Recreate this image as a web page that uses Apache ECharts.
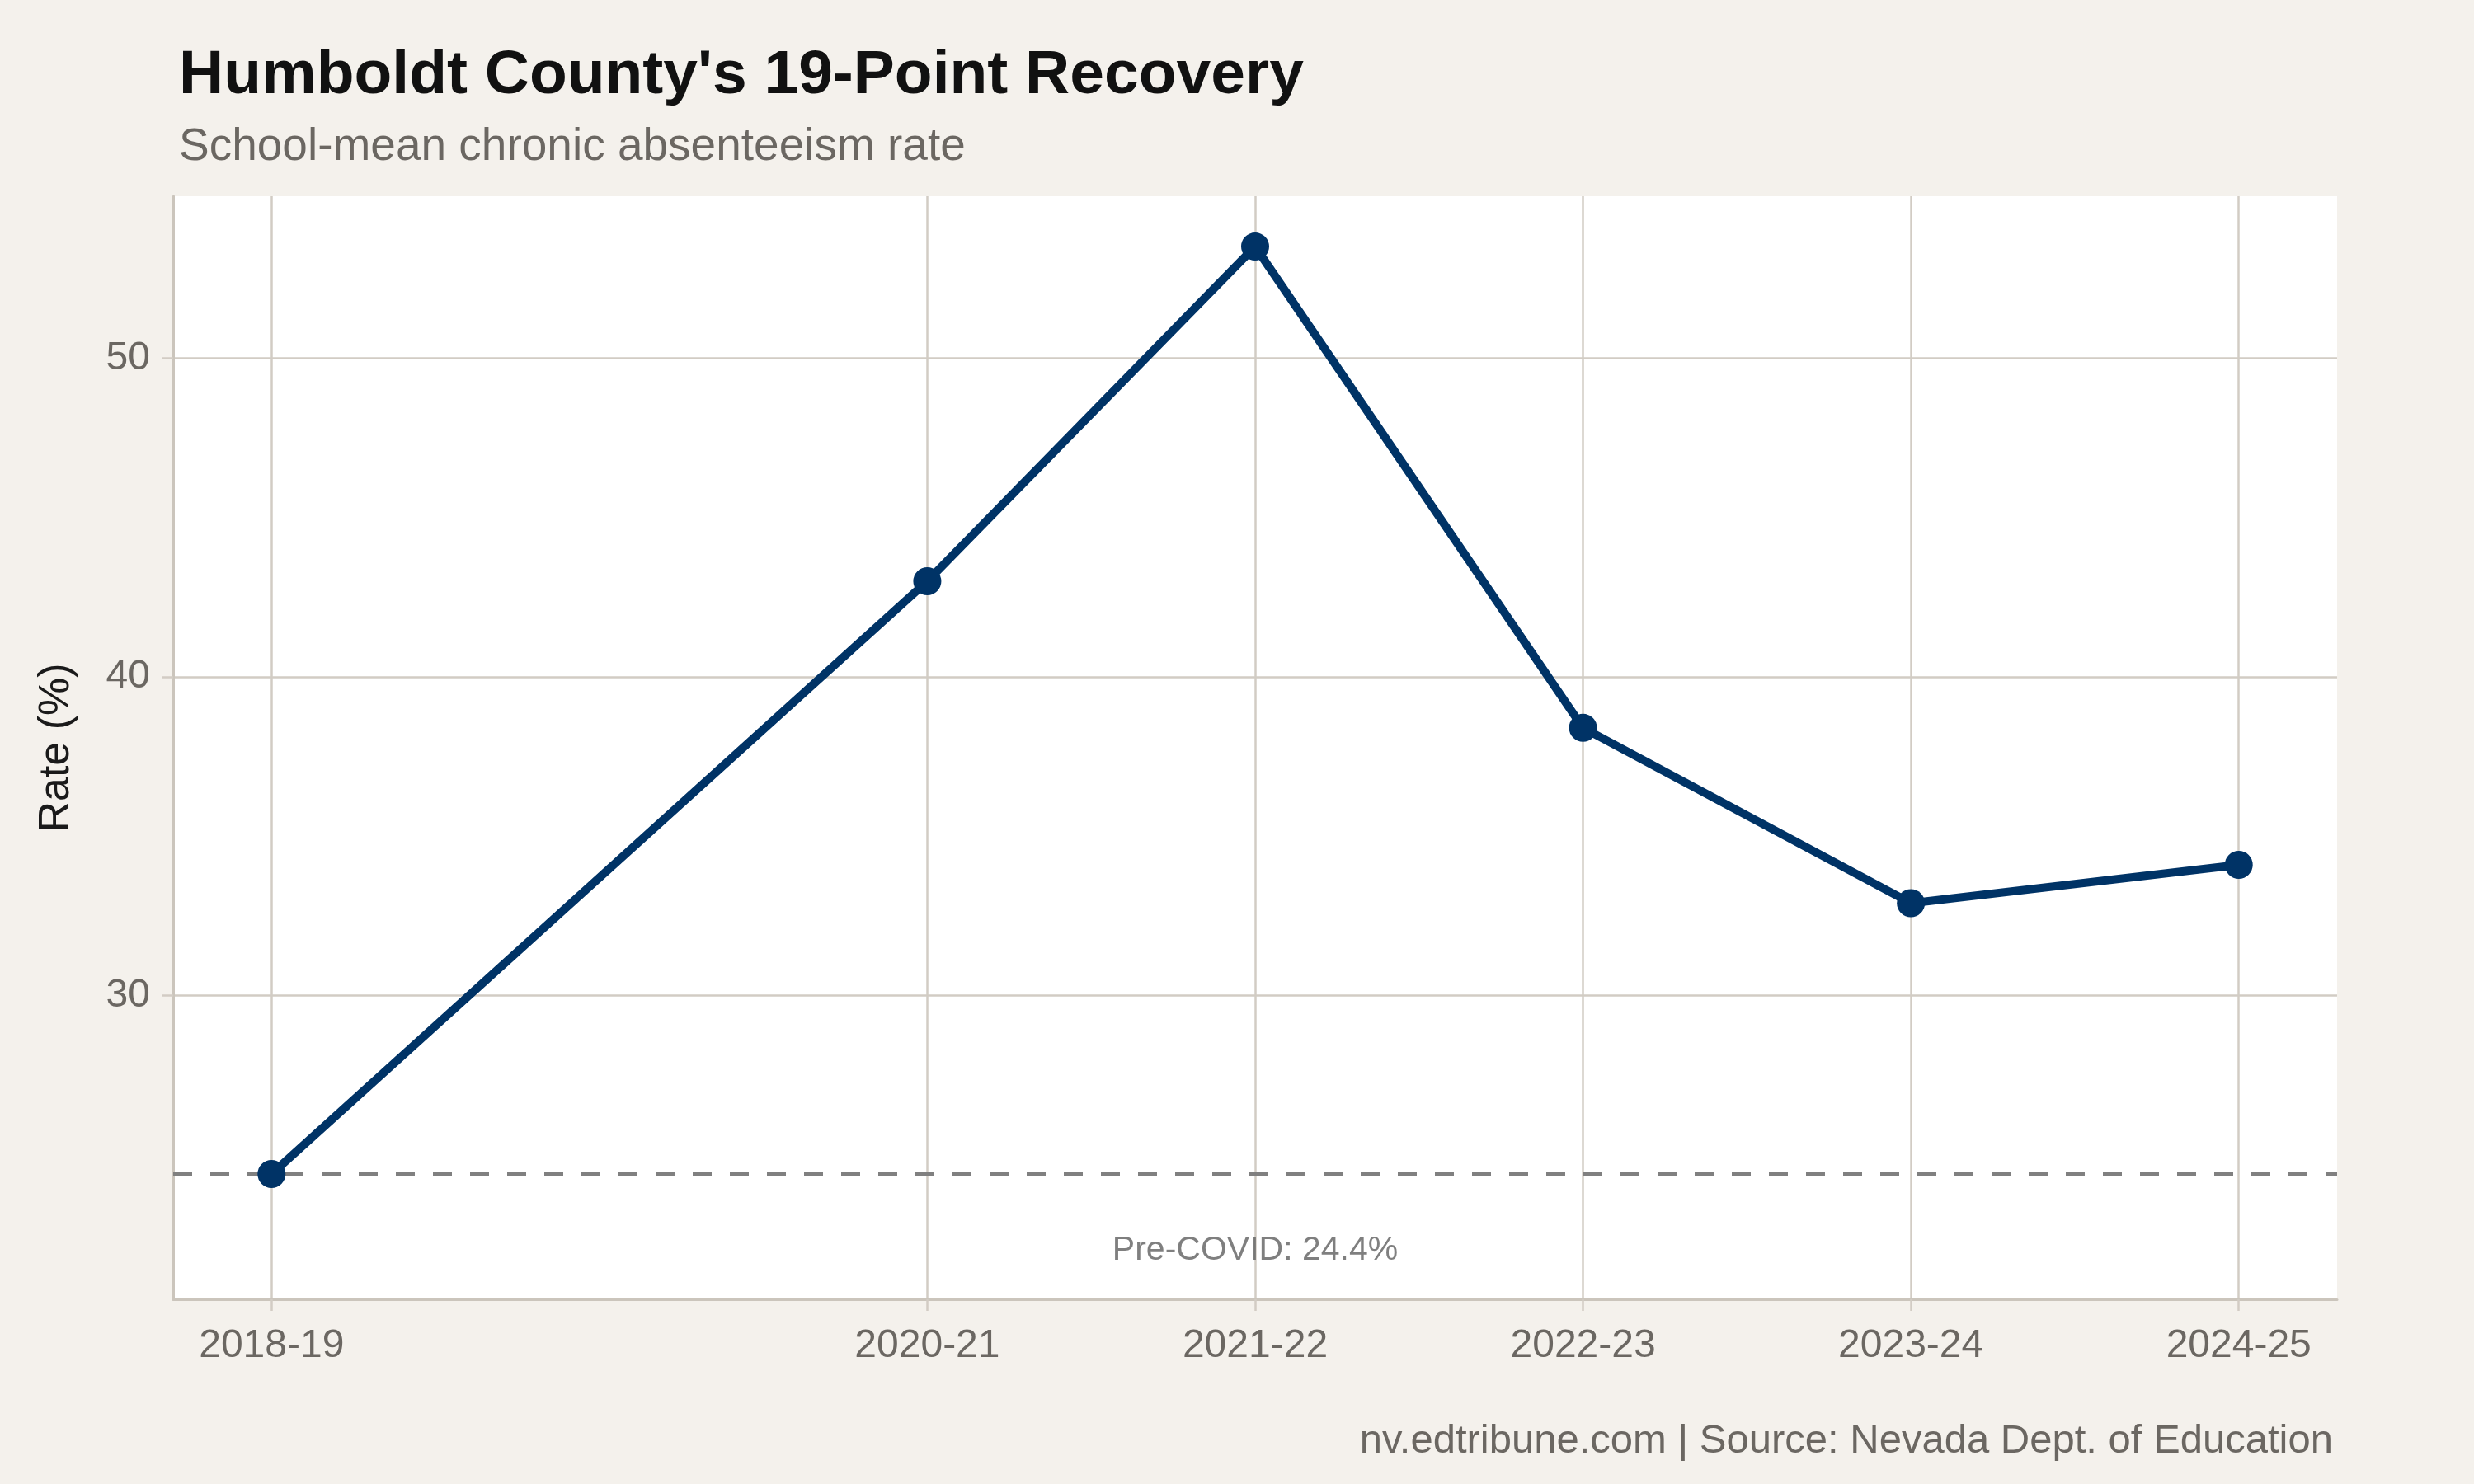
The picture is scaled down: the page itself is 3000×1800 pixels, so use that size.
<!DOCTYPE html>
<html>
<head>
<meta charset="utf-8">
<script src="https://cdn.jsdelivr.net/npm/echarts@6/dist/echarts.min.js"></script>
<style>
  html, body { margin: 0; padding: 0; background: #f4f1ec; }
  #chart { width: 3000px; height: 1800px; }
</style>
</head>
<body>
<div id="chart"></div>
<script>
// ---- data ----
const seasonStartYears = [2018, 2020, 2021, 2022, 2023, 2024];
const seasonLabels = ['2018-19', '2020-21', '2021-22', '2022-23', '2023-24', '2024-25'];
const rates = [24.4, 43.0, 53.5, 38.4, 32.9, 34.1];
const yTicks = [30, 40, 50];
const preCovidRate = 24.4;
const annotationText = 'Pre-COVID: 24.4%';
const annotationPos = [2021, 22.0];

const titleText = "Humboldt County's 19-Point Recovery";
const subtitleText = 'School-mean chronic absenteeism rate';
const captionText = 'nv.edtribune.com | Source: Nevada Dept. of Education';
const yAxisTitle = 'Rate (%)';

const FONT = '"Liberation Sans", Arial, Helvetica, sans-serif';
const gridColor = '#d2ccc4';
const grayText = '#6b6762';

const lineData = seasonStartYears.map((y, i) => [y, rates[i]]);
const labelMap = {};
seasonStartYears.forEach((y, i) => { labelMap[y] = seasonLabels[i]; });

const chart = echarts.init(document.getElementById('chart'), null, { renderer: 'canvas' });
chart.setOption({
  backgroundColor: '#f4f1ec',
  animation: false,
  title: [
    { text: titleText, left: 212, top: 50,
      textStyle: { fontFamily: FONT, fontSize: 75, fontWeight: 'bold', color: '#111111' } },
    { text: subtitleText, left: 212, top: 146,
      textStyle: { fontFamily: FONT, fontSize: 55, fontWeight: 'normal', color: grayText } },
    { text: captionText, right: 166, top: 1719,
      textStyle: { fontFamily: FONT, fontSize: 49, fontWeight: 'normal', color: grayText } }
  ],
  grid: {
    left: 210, right: 166, top: 238, bottom: 224,
    show: true, backgroundColor: '#ffffff', borderWidth: 0
  },
  xAxis: {
    type: 'value',
    min: 2017.7, max: 2024.3,
    axisLine: { show: true, onZero: false, lineStyle: { color: '#cbc5bc', width: 3 } },
    axisTick: { show: true, length: 14, customValues: seasonStartYears,
      lineStyle: { color: gridColor, width: 2.5 } },
    axisLabel: { customValues: seasonStartYears, margin: 33,
      formatter: v => labelMap[v] || '',
      fontFamily: FONT, fontSize: 48, color: grayText },
    splitLine: { show: true, lineStyle: { color: gridColor, width: 2.5 } }
  },
  yAxis: {
    type: 'value',
    min: 20.47, max: 55.08,
    name: yAxisTitle, nameLocation: 'middle', nameGap: 115,
    nameTextStyle: { fontFamily: FONT, fontSize: 52, color: '#1a1a1a' },
    axisLine: { show: true, lineStyle: { color: '#cbc5bc', width: 3 } },
    axisTick: { show: true, length: 14, customValues: yTicks,
      lineStyle: { color: gridColor, width: 2.5 } },
    axisLabel: { customValues: yTicks, margin: 28,
      fontFamily: FONT, fontSize: 48, color: grayText },
    splitLine: { show: true, lineStyle: { color: gridColor, width: 2.5 } }
  },
  series: [
    {
      type: 'line',
      data: lineData,
      symbol: 'circle', symbolSize: 34, showSymbol: true,
      lineStyle: { color: '#003366', width: 10 },
      itemStyle: { color: '#003366' },
      z: 5,
      markLine: {
        silent: true, symbol: ['none', 'none'],
        label: { show: false },
        lineStyle: { color: '#808080', width: 6, type: [23, 22] },
        data: [{ yAxis: preCovidRate }],
        z: 3
      }
    },
    {
      type: 'scatter',
      data: [annotationPos],
      symbolSize: 0,
      silent: true,
      label: { show: true, position: 'inside', formatter: annotationText,
        fontFamily: FONT, fontSize: 41, color: '#5f5f5f' }
    }
  ]
});
</script>
</body>
</html>
